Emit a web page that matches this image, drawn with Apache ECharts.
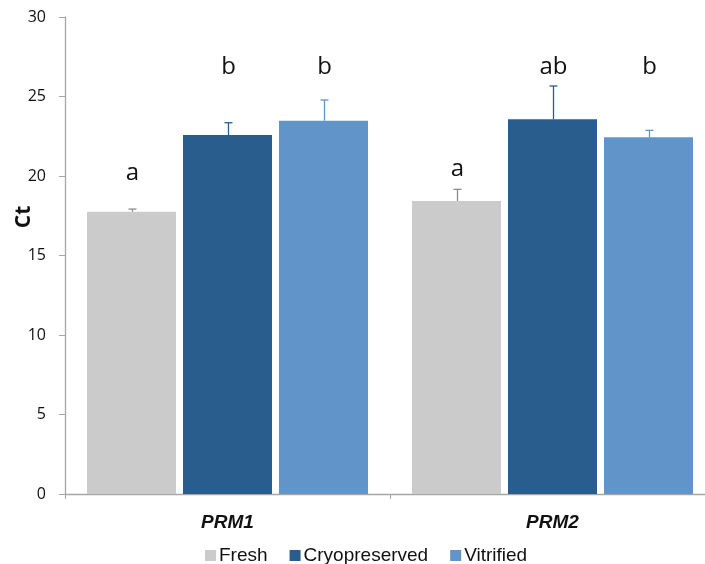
<!DOCTYPE html>
<html>
<head>
<meta charset="utf-8">
<script src="https://cdn.jsdelivr.net/npm/echarts@6/dist/echarts.min.js"></script>
<style>html,body{margin:0;padding:0;background:#fff}#c{width:705px;height:564px}</style>
</head>
<body>
<div id="c"></div>
<script>
var categories = ['PRM1', 'PRM2'];
var seriesNames = ['Fresh', 'Cryopreserved', 'Vitrified'];
var freshValues = [17.75, 18.43];
var cryoValues = [22.58, 23.57];
var vitrifiedValues = [23.48, 22.43];
var freshErrors = [0.17, 0.73];
var cryoErrors = [0.77, 2.09];
var vitrifiedErrors = [1.30, 0.44];
var freshLetters = ['a', 'a'];
var cryoLetters = ['b', 'ab'];
var vitrifiedLetters = ['b', 'b'];
var letterLevels = [[20.2, 20.4], [26.85, 26.85], [26.85, 26.85]];
var yTicks = [0, 5, 10, 15, 20, 25, 30];

var colors = ['#cbcbcb', '#285d8e', '#6194c8'];
var errColors = ['#8a8a8a', '#285d8e', '#6194c8'];
var BAR_W = 89, BAR_GAP = 7;

var values = [freshValues, cryoValues, vitrifiedValues];
var errors = [freshErrors, cryoErrors, vitrifiedErrors];
var letters = [freshLetters, cryoLetters, vitrifiedLetters];

var series = [];
seriesNames.forEach(function (name, s) {
  series.push({
    name: name, type: 'bar', data: values[s], barWidth: BAR_W, barGap: (BAR_GAP / BAR_W * 100) + '%',
    itemStyle: { color: colors[s] }, emphasis: { disabled: true }
  });
});
seriesNames.forEach(function (name, s) {
  series.push({
    type: 'custom', silent: true, z: 5,
    data: values[s].map(function (v, i) { return [i, v, errors[s][i], letterLevels[s][i]]; }),
    renderItem: function (params, api) {
      var i = api.value(0);
      var off = (s - 1) * (BAR_W + BAR_GAP);
      var top = api.coord([i, api.value(1)]);
      var hi = api.coord([i, api.value(1) + api.value(2)]);
      var lp = api.coord([i, api.value(3)]);
      var x = Math.round(top[0] + off) + 0.5;
      return { type: 'group', children: [
        { type: 'line', shape: { x1: x, y1: top[1], x2: x, y2: hi[1] }, style: { stroke: errColors[s], lineWidth: 1.3 } },
        { type: 'line', shape: { x1: x - 4, y1: hi[1], x2: x + 4, y2: hi[1] }, style: { stroke: errColors[s], lineWidth: 1.3 } },
        { type: 'text', x: x, y: lp[1], style: { text: letters[s][i], fill: '#111', font: '24px "Open Sans"', align: 'center', verticalAlign: 'middle' } }
      ] };
    }
  });
});

var chart = echarts.init(document.getElementById('c'));
chart.setOption({
  animation: false,
  grid: { left: 65, top: 17, width: 650, bottom: 70, outerBoundsMode: 'none', containLabel: false },
  legend: {
    data: seriesNames, left: 200, top: 541, icon: 'rect', itemWidth: 11, itemHeight: 11, itemGap: 22,
    textStyle: { fontFamily: 'Liberation Sans', fontSize: 19, color: '#111', padding: [0, 0, 0, -2] }
  },
  xAxis: {
    type: 'category', data: categories,
    axisLine: { lineStyle: { color: '#a6a6a6', width: 1.3 } },
    axisTick: { show: true, length: 5, lineStyle: { color: '#a6a6a6' } },
    axisLabel: { margin: 19, fontFamily: 'Liberation Sans', fontWeight: 'bold', fontStyle: 'italic', fontSize: 19, color: '#111' }
  },
  yAxis: {
    type: 'value', min: yTicks[0], max: yTicks[yTicks.length - 1], interval: 5,
    splitLine: { show: false },
    axisLine: { show: true, lineStyle: { color: '#a6a6a6', width: 1.3 } },
    axisTick: { show: true, length: 6, lineStyle: { color: '#a6a6a6' } },
    axisLabel: { margin: 19, fontFamily: 'Open Sans', fontSize: 16, color: '#111' }
  },
  graphic: [{
    type: 'text', x: 24, y: 217, rotation: Math.PI / 2,
    style: { text: 'Ct', font: 'bold 21px "Open Sans"', fill: '#111', align: 'center', verticalAlign: 'middle' }
  }],
  series: series
});
</script>
</body>
</html>
